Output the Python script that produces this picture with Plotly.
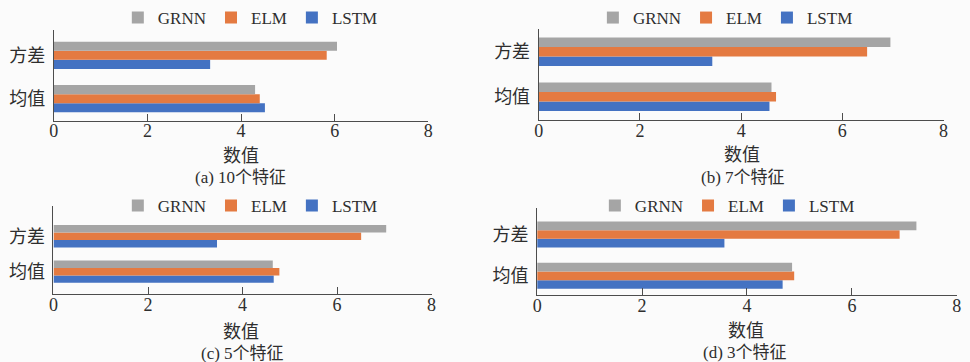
import plotly.graph_objects as go

# Four panels: evaluation statistics for three models under different feature counts
categories = ["均值", "方差"]
models = ["GRNN", "ELM", "LSTM"]
colors = {"GRNN": "#A5A5A5", "ELM": "#E47A41", "LSTM": "#4472C2"}

# values ordered as [均值, 方差]
panel_a = {"GRNN": [4.30, 6.05], "ELM": [4.40, 5.83], "LSTM": [4.51, 3.34]}
panel_b = {"GRNN": [4.60, 6.95], "ELM": [4.69, 6.49], "LSTM": [4.56, 3.43]}
panel_c = {"GRNN": [4.64, 7.04], "ELM": [4.78, 6.51], "LSTM": [4.66, 3.46]}
panel_d = {"GRNN": [4.86, 7.23], "ELM": [4.90, 6.91], "LSTM": [4.68, 3.57]}

captions = ["(a) 10个特征", "(b) 7个特征", "(c) 5个特征", "(d) 3个特征"]
x_title = "数值"
x_ticks = [0, 2, 4, 6, 8]

W, H = 970, 362
SERIF = "Liberation Serif, 'Noto Sans CJK SC', serif"
CJK = "'Noto Sans CJK SC', sans-serif"
AXIS_COLOR = "#4d4d4d"
TEXT_COLOR = "#2e2e2e"


def px_x(v):
    return v / W


def px_y(v):
    return 1 - v / H


# panel layout in pixels: x0, x1 (value axis 0..8), y_top, y_bottom, y range,
# legend left / middle, title centres
panels = [
    dict(data=panel_a, x0=49.3, x1=427.7, yt=30.0, yb=120.7, yr=[-0.507, 1.583],
         leg=(114, 18), t1=(238, 154), t2=(238, 177)),
    dict(data=panel_b, x0=539.3, x1=948.3, yt=29.0, yb=120.0, yr=[-0.513, 1.502],
         leg=(594, 18), t1=(745, 153), t2=(746, 177)),
    dict(data=panel_c, x0=49.0, x1=431.0, yt=205.7, yb=294.3, yr=[-0.637, 1.86],
         leg=(114, 206), t1=(238, 330), t2=(240, 353)),
    dict(data=panel_d, x0=537.7, x1=961.7, yt=207.7, yb=295.0, yr=[-0.465, 1.65],
         leg=(596, 206), t1=(749, 329), t2=(748, 352)),
]

fig = go.Figure()
layout = {}
annotations = []

for i, p in enumerate(panels):
    n = "" if i == 0 else str(i + 1)
    legname = "legend" + n
    # plot order bottom-to-top: LSTM, ELM, GRNN
    for m in reversed(models):
        fig.add_trace(go.Bar(
            x=p["data"][m], y=categories, name=m, orientation="h",
            marker=dict(color=colors[m], line=dict(width=0)),
            xaxis="x" + n, yaxis="y" + n, legend=legname,
            hoverinfo="x+name",
        ))
    layout["xaxis" + n] = dict(
        domain=[px_x(p["x0"]), px_x(p["x1"])], anchor="y" + n,
        range=[0, 8], tickvals=x_ticks, ticks="inside", ticklen=7,
        tickcolor=AXIS_COLOR, showline=True, linecolor=AXIS_COLOR, linewidth=1,
        showgrid=False, zeroline=False, ticklabelstandoff=-6,
        tickfont=dict(family=SERIF, size=18, color=TEXT_COLOR),
    )
    layout["yaxis" + n] = dict(
        domain=[px_y(p["yb"]), px_y(p["yt"])], anchor="x" + n,
        type="category", categoryorder="array", categoryarray=categories,
        range=p["yr"], showline=True, linecolor=AXIS_COLOR, linewidth=1,
        ticks="", showgrid=False, zeroline=False, ticklabelstandoff=4,
        tickfont=dict(family=CJK, size=18, color=TEXT_COLOR),
    )
    layout[legname] = dict(
        orientation="h", x=px_x(p["leg"][0]), xanchor="left",
        y=px_y(p["leg"][1]), yanchor="middle", traceorder="reversed",
        font=dict(family=SERIF, size=17, color=TEXT_COLOR),
        bgcolor="rgba(0,0,0,0)", itemwidth=30, itemclick=False,
    )
    annotations.append(dict(
        text=x_title, x=px_x(p["t1"][0]), y=px_y(p["t1"][1]),
        xref="paper", yref="paper", xanchor="center", yanchor="middle",
        showarrow=False, font=dict(family=CJK, size=18, color=TEXT_COLOR),
    ))
    annotations.append(dict(
        text=captions[i], x=px_x(p["t2"][0]), y=px_y(p["t2"][1]),
        xref="paper", yref="paper", xanchor="center", yanchor="middle",
        showarrow=False, font=dict(family=SERIF, size=17, color=TEXT_COLOR),
    ))

fig.update_layout(
    width=W, height=H, margin=dict(l=0, r=0, t=0, b=0),
    paper_bgcolor="#FBFBFB", plot_bgcolor="rgba(0,0,0,0)",
    barmode="group", bargap=0.37, bargroupgap=0,
    annotations=annotations, **layout,
)

fig.write_html("out.html")
